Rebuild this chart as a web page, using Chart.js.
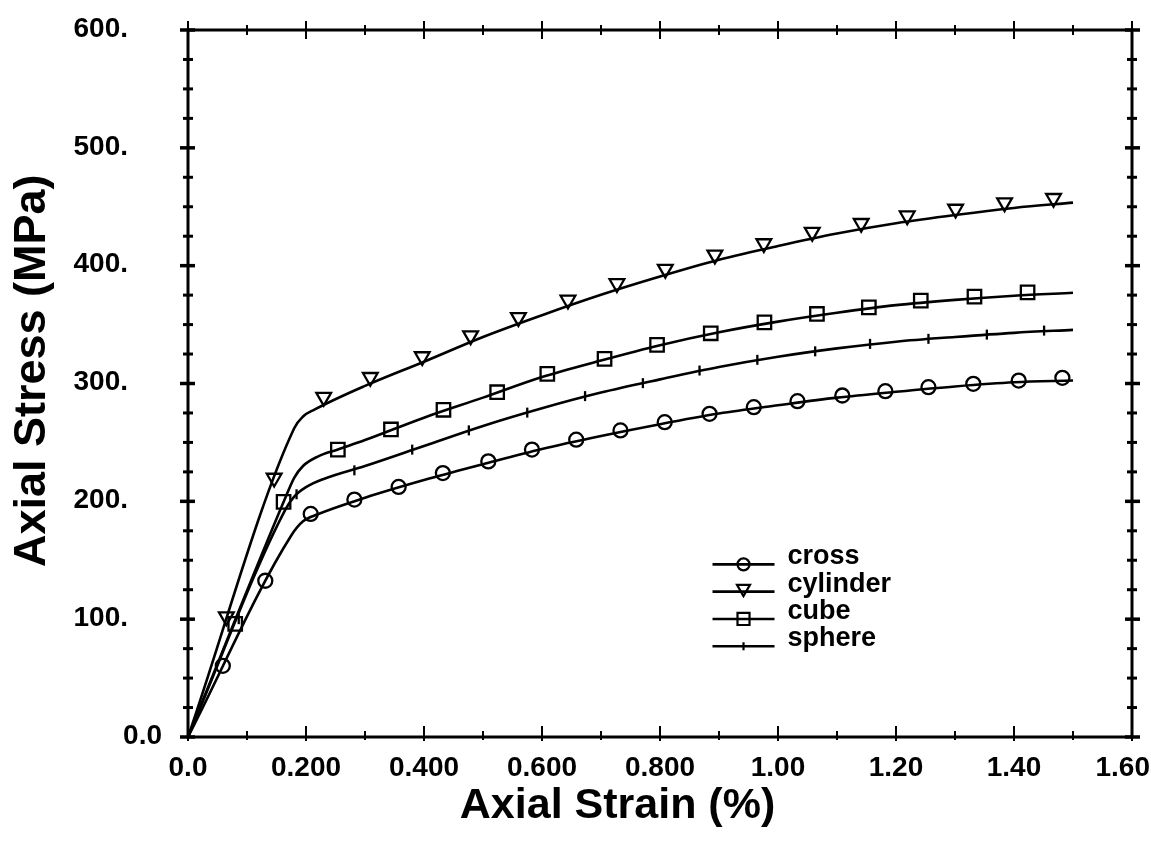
<!DOCTYPE html>
<html>
<head>
<meta charset="utf-8">
<script src="https://cdn.jsdelivr.net/npm/chart.js@4.4.1/dist/chart.umd.min.js"></script>
<style>
  html, body { margin: 0; padding: 0; background: #ffffff; }
  canvas { display: block; }
</style>
</head>
<body>
<canvas id="chart" width="1151" height="846"></canvas>
<script>
// ---- series names ----
const seriesNames = ['cross', 'cylinder', 'cube', 'sphere'];

// ---- fitted curves: axial strain (%) vs axial stress (MPa) ----
const crossCurveX    = [0, 0.175, 0.195, 0.22, 0.3, 0.4, 0.5, 0.6, 0.7, 0.8, 0.9, 1.0, 1.1, 1.2, 1.3, 1.4, 1.5];
const crossCurveY    = [0, 171, 183, 189, 203, 218, 231.5, 244.5, 255.5, 265.5, 274.5, 281.5, 288, 293, 297.5, 301, 302.5];

const cylinderCurveX = [0, 0.18, 0.195, 0.215, 0.3, 0.4, 0.5, 0.6, 0.7, 0.8, 0.9, 1.0, 1.1, 1.2, 1.3, 1.4, 1.5];
const cylinderCurveY = [0, 262, 272, 278, 298, 318.5, 339.5, 358, 375.3, 390.8, 405, 416.7, 427.3, 436, 443, 449, 453.5];

const cubeCurveX     = [0, 0.165, 0.18, 0.195, 0.22, 0.254, 0.3, 0.4, 0.5, 0.6, 0.7, 0.8, 0.9, 1.0, 1.1, 1.2, 1.3, 1.4, 1.5];
const cubeCurveY     = [0, 203, 220, 230, 238, 244, 252, 271, 288, 305.5, 319.5, 332.5, 343.5, 352.5, 360, 366.5, 371, 374.5, 377];

const sphereCurveX   = [0, 0.165, 0.18, 0.2, 0.23, 0.3, 0.4, 0.5, 0.6, 0.7, 0.8, 0.9, 1.0, 1.1, 1.2, 1.3, 1.4, 1.5];
const sphereCurveY   = [0, 193, 204, 212, 219, 230, 247, 264, 279, 292.3, 303.5, 314, 322.7, 329.8, 335.5, 339.5, 343, 345.5];

// ---- marker points ----
const crossPtsX    = [0.059, 0.131, 0.208, 0.282, 0.357, 0.432, 0.509, 0.583, 0.658, 0.733, 0.808, 0.884, 0.959, 1.033, 1.109, 1.182, 1.255, 1.331, 1.408, 1.482];
const crossPtsY    = [60.4, 132.6, 189.3, 201.5, 212.2, 224.0, 233.9, 243.9, 252.3, 260.2, 267.2, 274.3, 279.9, 285.0, 289.8, 293.5, 296.9, 299.7, 302.5, 304.8];

const cylinderPtsX = [0.065, 0.146, 0.230, 0.309, 0.397, 0.479, 0.560, 0.644, 0.727, 0.809, 0.893, 0.976, 1.058, 1.141, 1.219, 1.301, 1.384, 1.467];
const cylinderPtsY = [102.1, 219.8, 288.4, 305.3, 322.9, 340.6, 356.1, 370.9, 384.9, 397.1, 409.2, 418.8, 428.5, 436.0, 442.4, 448.1, 453.5, 457.2];

const cubePtsX     = [0.080, 0.162, 0.254, 0.344, 0.433, 0.524, 0.609, 0.706, 0.795, 0.886, 0.977, 1.066, 1.154, 1.242, 1.333, 1.423];
const cubePtsY     = [96, 199.5, 243.9, 261.0, 277.7, 292.6, 308.2, 320.9, 332.8, 342.6, 351.9, 359.0, 364.6, 370.3, 373.7, 377.3];

const spherePtsX   = [0.086, 0.184, 0.282, 0.380, 0.476, 0.575, 0.673, 0.771, 0.867, 0.965, 1.063, 1.156, 1.255, 1.354, 1.451];
const spherePtsY   = [100, 206, 226.3, 243.9, 260.2, 275.3, 289.3, 300.3, 311.0, 320.1, 327.3, 333.6, 337.9, 341.5, 344.9];

// ---- axis ticks ----
const xTickValues  = [0, 0.2, 0.4, 0.6, 0.8, 1.0, 1.2, 1.4, 1.6];
const xTickLabels  = ['0.0', '0.200', '0.400', '0.600', '0.800', '1.00', '1.20', '1.40', '1.60'];
const xMinorValues = [0.1, 0.3, 0.5, 0.7, 0.9, 1.1, 1.3, 1.5];
const yTickValues  = [0, 100, 200, 300, 400, 500, 600];
const yTickLabels  = ['0.0', '100.', '200.', '300.', '400.', '500.', '600.'];
const yMinorValues = [25, 50, 75, 125, 150, 175, 225, 250, 275, 325, 350, 375, 425, 450, 475, 525, 550, 575];

const xTitle = 'Axial Strain (%)';
const yTitle = 'Axial Stress (MPa)';

const FONT = "'Liberation Sans', Arial, Helvetica, sans-serif";
const INK = '#000000';

// marker appearance per series
const markerStyles = [
  { pointStyle: 'circle',   rotation: 0,   radius: 7 },
  { pointStyle: 'triangle', rotation: 180, radius: 8.5 },
  { pointStyle: 'rect',     rotation: 0,   radius: 9.5 },
  { pointStyle: 'line',     rotation: 90,  radius: 5 }
];

const zip = (xs, ys) => xs.map((x, i) => ({ x: x, y: ys[i] }));

const curves = [
  zip(crossCurveX, crossCurveY),
  zip(cylinderCurveX, cylinderCurveY),
  zip(cubeCurveX, cubeCurveY),
  zip(sphereCurveX, sphereCurveY)
];
const points = [
  zip(crossPtsX, crossPtsY),
  zip(cylinderPtsX, cylinderPtsY),
  zip(cubePtsX, cubePtsY),
  zip(spherePtsX, spherePtsY)
];

const datasets = [];
seriesNames.forEach((name, i) => {
  datasets.push({
    label: name,
    data: curves[i],
    showLine: true,
    borderColor: INK,
    borderWidth: 2.6,
    pointRadius: 0,
    cubicInterpolationMode: 'monotone',
    fill: false
  });
});
seriesNames.forEach((name, i) => {
  const m = markerStyles[i];
  datasets.push({
    label: name + ' points',
    data: points[i],
    showLine: false,
    pointStyle: m.pointStyle,
    rotation: m.rotation,
    pointRadius: m.radius,
    pointBorderWidth: 2.3,
    pointBorderColor: INK,
    pointBackgroundColor: 'rgba(0,0,0,0)'
  });
});

// frame, tick marks, tick labels, titles and legend
const axesDecor = {
  id: 'axesDecor',
  afterDatasetsDraw(chart) {
    const ctx = chart.ctx;
    const xs = chart.scales.x, ys = chart.scales.y;
    const a = chart.chartArea;
    const W = chart.width;
    ctx.save();
    ctx.strokeStyle = INK;
    ctx.fillStyle = INK;
    ctx.lineCap = 'butt';

    // frame
    ctx.lineWidth = 3;
    ctx.strokeRect(a.left, a.top, a.right - a.left, a.bottom - a.top);

    const seg = (x1, y1, x2, y2) => { ctx.beginPath(); ctx.moveTo(x1, y1); ctx.lineTo(x2, y2); ctx.stroke(); };

    // x ticks (bottom and top)
    ctx.lineWidth = 2;
    xTickValues.forEach(v => {
      const px = xs.getPixelForValue(v);
      seg(px, a.bottom + 4, px, a.bottom - 11);
      seg(px, a.top - 9, px, a.top + 9);
    });
    xMinorValues.forEach(v => {
      const px = xs.getPixelForValue(v);
      seg(px, a.bottom + 3, px, a.bottom - 6);
      seg(px, a.top - 5, px, a.top + 5);
    });

    // y ticks (left and right)
    ctx.lineWidth = 3.5;
    yTickValues.forEach(v => {
      const py = ys.getPixelForValue(v);
      seg(a.left - 8, py, a.left + 7, py);
      seg(a.right - 7, py, a.right + 8, py);
    });
    ctx.lineWidth = 3;
    yMinorValues.forEach(v => {
      const py = ys.getPixelForValue(v);
      seg(a.left - 5, py, a.left + 5, py);
      seg(a.right - 5, py, a.right + 5, py);
    });

    // tick labels
    ctx.font = 'bold 28px ' + FONT;
    ctx.textAlign = 'center';
    ctx.textBaseline = 'middle';
    xTickValues.forEach((v, i) => {
      const lbl = xTickLabels[i];
      const half = ctx.measureText(lbl).width / 2;
      const cx = Math.min(xs.getPixelForValue(v), W - 1 - half);
      ctx.fillText(lbl, cx, a.bottom + 31);
    });
    ctx.textAlign = 'right';
    yTickValues.forEach((v, i) => {
      const lbl = yTickLabels[i];
      const gap = lbl.endsWith('.') ? 60 : 26;
      ctx.fillText(lbl, a.left - gap, ys.getPixelForValue(v) - 1);
    });

    // axis titles
    ctx.font = 'bold 43px ' + FONT;
    ctx.textAlign = 'center';
    ctx.textBaseline = 'middle';
    ctx.fillText(xTitle, a.left + (a.right - a.left) * 0.455, a.bottom + 69);
    ctx.save();
    ctx.font = 'bold 45px ' + FONT;
    ctx.translate(a.left - 155, a.top + (a.bottom - a.top) * 0.482);
    ctx.rotate(-Math.PI / 2);
    ctx.fillText(yTitle, 0, 0);
    ctx.restore();

    // legend
    const lx = xs.getPixelForValue(0.889);
    const ly = ys.getPixelForValue(146.5);
    ctx.font = 'bold 27px ' + FONT;
    ctx.textAlign = 'left';
    ctx.textBaseline = 'alphabetic';
    seriesNames.forEach((name, i) => {
      const y = ly + i * 27.3;
      ctx.lineWidth = 2.6;
      seg(lx, y, lx + 62, y);
      const m = markerStyles[i];
      ctx.lineWidth = 2.2;
      ctx.fillStyle = 'rgba(0,0,0,0)';
      Chart.helpers.drawPoint(ctx, {
        pointStyle: m.pointStyle,
        rotation: m.rotation,
        radius: m.radius - 1,
        borderWidth: 2.2
      }, lx + 31, y - (m.pointStyle === 'triangle' ? 3 : 0));
      ctx.fillStyle = INK;
      ctx.fillText(name, lx + 75, y);
    });
    ctx.restore();
  }
};

new Chart(document.getElementById('chart'), {
  type: 'scatter',
  data: { datasets: datasets },
  options: {
    responsive: false,
    animation: false,
    devicePixelRatio: 1,
    layout: { padding: { left: 188, right: 19, top: 30, bottom: 109 } },
    plugins: {
      legend: { display: false },
      tooltip: { enabled: false }
    },
    scales: {
      x: { type: 'linear', min: 0, max: 1.6, display: false },
      y: { type: 'linear', min: 0, max: 600, display: false }
    }
  },
  plugins: [axesDecor]
});
</script>
</body>
</html>
